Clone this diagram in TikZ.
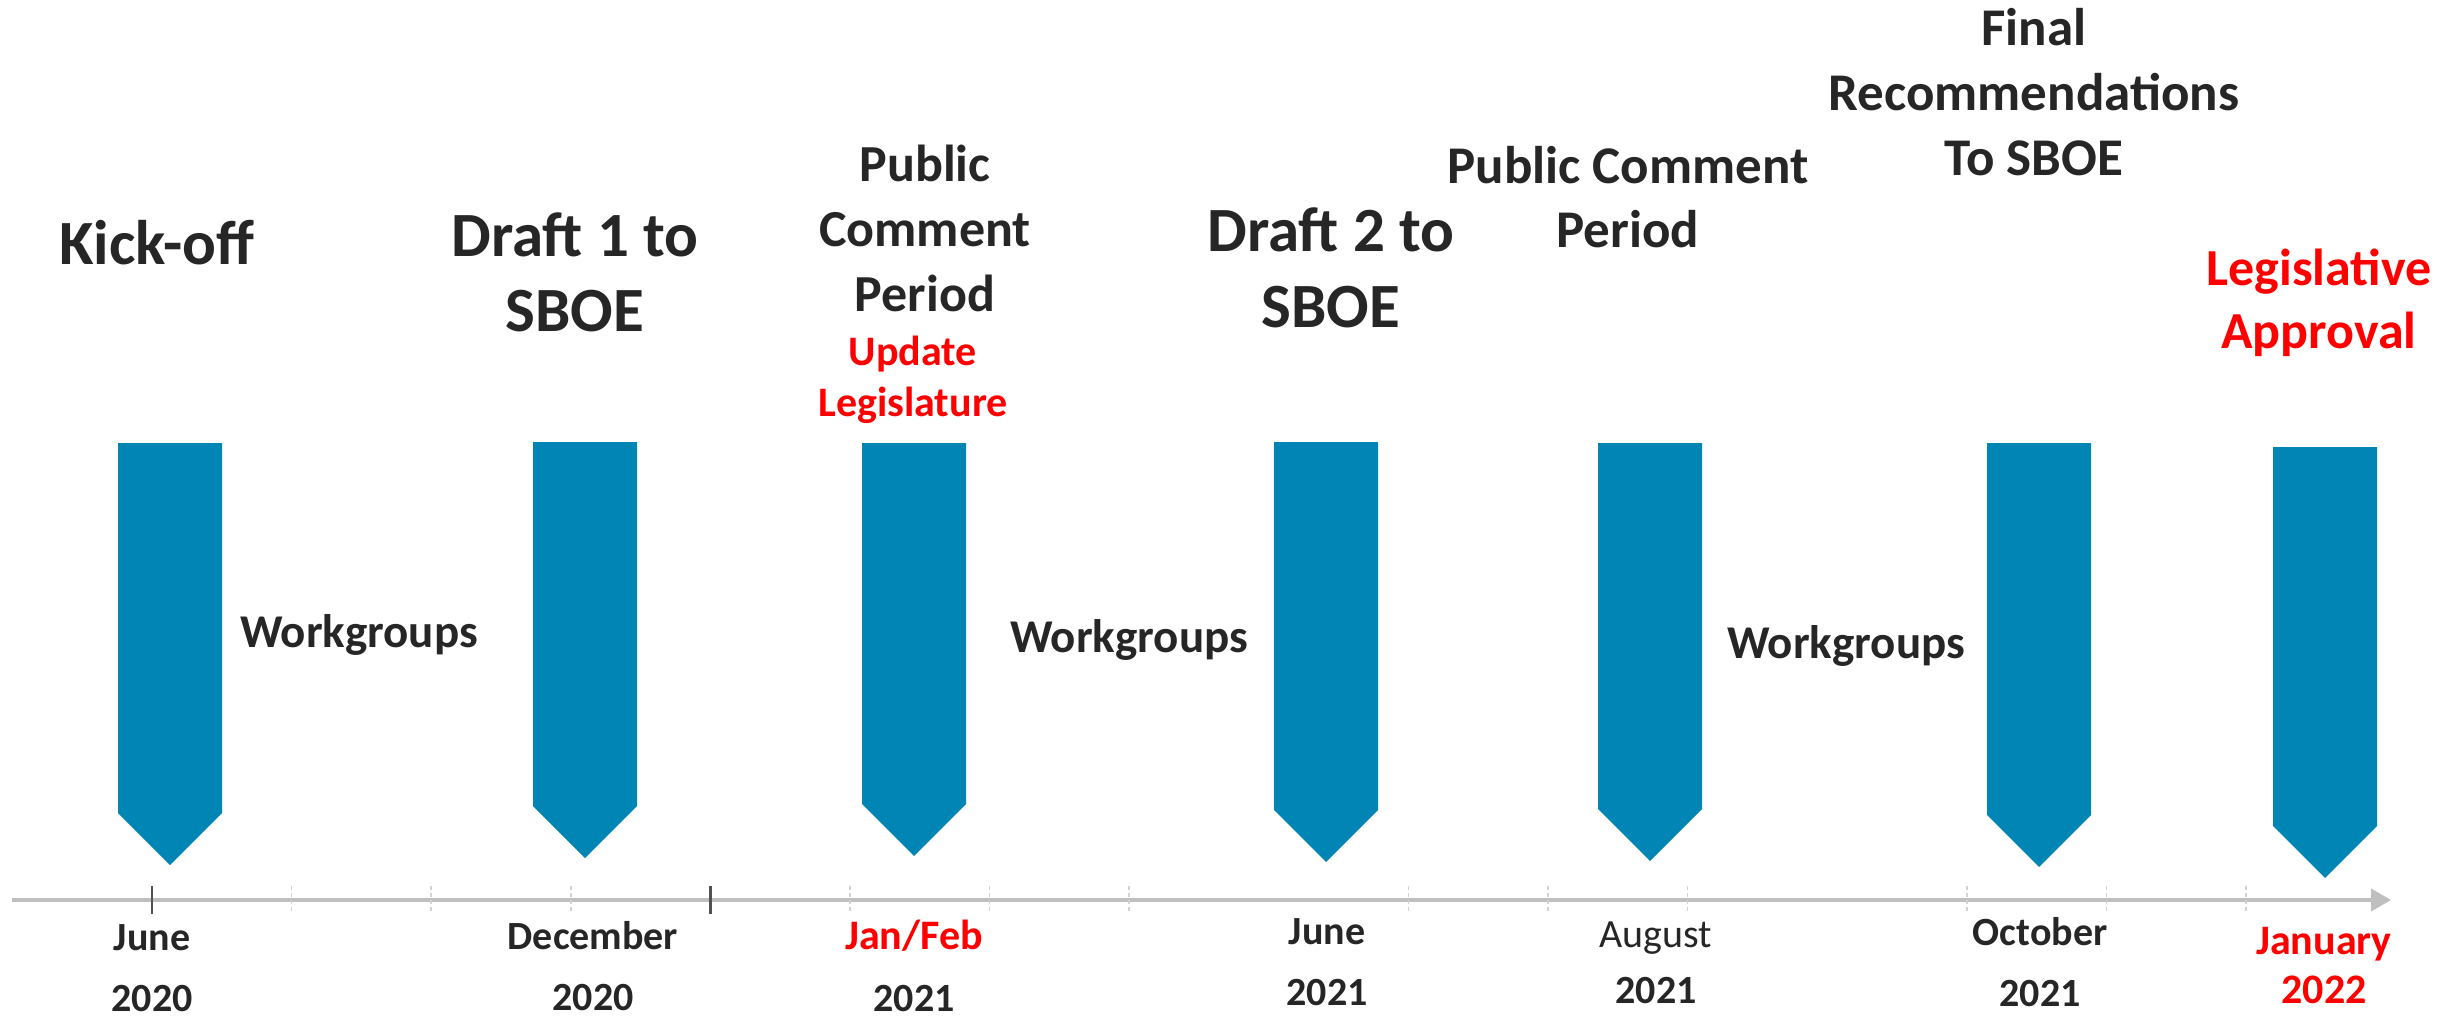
\documentclass[tikz,border=0pt]{standalone}
\usepackage{fontspec}
\setmainfont{Carlito}
\usetikzlibrary{arrows.meta}
\definecolor{barblue}{RGB}{0,133,181}
\definecolor{txt}{RGB}{38,38,38}
\definecolor{axisgray}{RGB}{191,191,191}
\definecolor{tickgray}{RGB}{210,210,210}
\definecolor{hlred}{RGB}{255,0,0}
\newcommand\tlbar[3]{\fill[barblue] ({#1-52},#2) -- ({#1+52},#2) -- ({#1+52},{#3-52}) -- (#1,#3) -- ({#1-52},{#3-52}) -- cycle;}
\begin{document}
\begin{tikzpicture}[x=1pt,y=-1pt,
  lbl/.style 2 args={align=center,text=txt,inner sep=0pt,font=\bfseries\fontsize{#1}{#2}\selectfont},
  redlbl/.style 2 args={align=center,text=hlred,inner sep=0pt,font=\bfseries\fontsize{#1}{#2}\selectfont},
  dtick/.style={tickgray,dashed,dash pattern=on 4pt off 3pt,line width=1.5pt},
  stick/.style={txt!80,line width=2.5pt}]
\useasboundingbox (0,0) rectangle (2453,1017);
% axis
\draw[axisgray,line width=4pt,-{Triangle[length=20pt,width=22pt]}] (12,900) -- (2391,900);
\foreach \k in {1,2,3,5,6,7,9,10,11,13,14,15}
  \draw[dtick] ({152+139.6*\k},886) -- ++(0,28);
\foreach \k in {0,4}
  \draw[stick] ({152+139.6*\k},886) -- ++(0,28);
% bars
\tlbar{170}{443}{865}
\tlbar{585}{442}{858}
\tlbar{914}{443}{856}
\tlbar{1326}{442}{862}
\tlbar{1650}{443}{861}
\tlbar{2039}{443}{867}
\tlbar{2325}{447}{878}
% top labels
\node[lbl={63}{75}] (k1) at (157,243) {Kick-off};
\node[lbl={63}{75}] (d1) at (575,272) {Draft 1 to\\SBOE};
\node[lbl={52}{65}] (p1) at (925,228) {Public\\Comment\\Period};
\node[redlbl={42}{51}] (u1) at (913,380) {Update\\Legislature};
\node[lbl={63}{76}] (d2) at (1331,268) {Draft 2 to\\SBOE};
\node[lbl={53}{64}] (p2) at (1628,197) {Public Comment\\Period};
\node[lbl={53}{65}] (f1) at (2034,92) {Final\\Recommendations\\To SBOE};
\node[redlbl={52}{63}] (l1) at (2319,303) {Legislative\\Approval};
% workgroups
\node[lbl={47}{56}] (w1) at (359,635) {Workgroups};
\node[lbl={47}{56}] (w2) at (1129,640) {Workgroups};
\node[lbl={47}{56}] (w3) at (1846,646) {Workgroups};
% dates
\node[lbl={40}{61}] (t1) at (152,968) {June\\2020};
\node[lbl={40}{61}] (t2) at (593,966) {December\\2020};
\node[lbl={40}{62}] (t3) at (914,966) {\textcolor{hlred}{\fontsize{42}{62}\selectfont Jan/Feb}\\2021};
\node[lbl={40}{61}] (t4) at (1327,962) {June\\2021};
\node[lbl={40}{56}] (t5) at (1656,963) {\mdseries August\\2021};
\node[lbl={40}{61}] (t6) at (2040,962) {October\\2021};
\node[redlbl={42}{49}] (t7) at (2324,966) {January\\2022};
\end{tikzpicture}
\end{document}
